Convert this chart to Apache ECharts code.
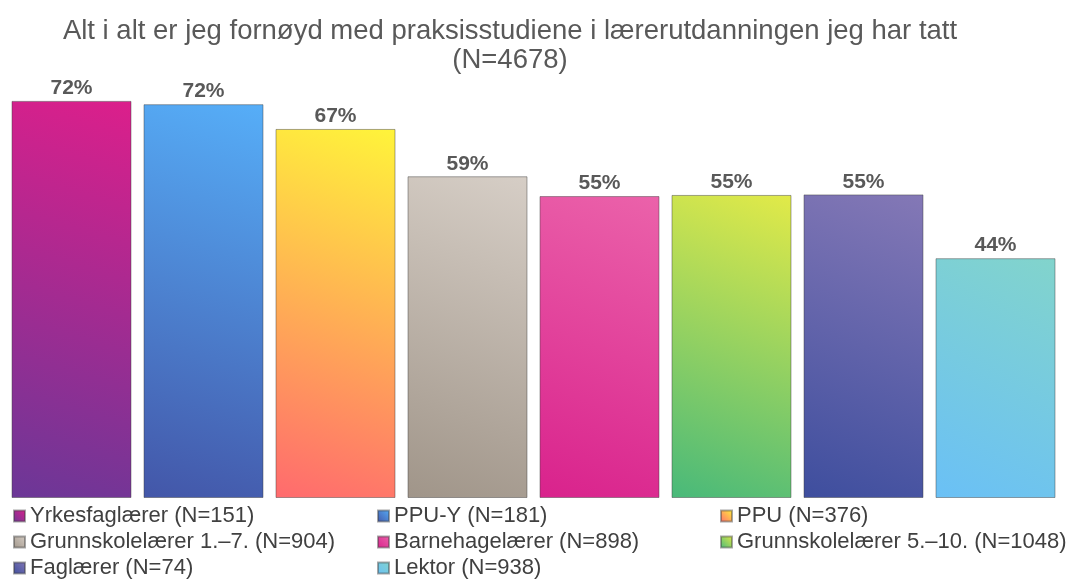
<!DOCTYPE html>
<html>
<head>
<meta charset="utf-8">
<script src="https://cdn.jsdelivr.net/npm/echarts@6/dist/echarts.min.js"></script>
<style>
  html, body { margin: 0; padding: 0; background: #fff; }
  #chart { width: 1077px; height: 583px; }
</style>
</head>
<body>
<div id="chart"></div>
<script>
// data
var groups = ['Yrkesfaglærer', 'PPU-Y', 'PPU', 'Grunnskolelærer 1.–7.', 'Barnehagelærer',
              'Grunnskolelærer 5.–10.', 'Faglærer', 'Lektor'];
var counts = [151, 181, 376, 904, 898, 1048, 74, 938];
var shares = [72.2, 71.6, 67.1, 58.5, 54.9, 55.1, 55.2, 43.6];

// gradient ends: [top-right, bottom-left]
var colors = [
    ['#dc1f8b', '#6b3797'],
    ['#56aef8', '#4356a8'],
    ['#fff43a', '#ff6a6e'],
    ['#d6cec6', '#a09589'],
    ['#eb62aa', '#d9228c'],
    ['#e2ea48', '#48b97a'],
    ['#8478b6', '#3e4e9e'],
    ['#82d4cc', '#6ac0f6']
];

var myChart = echarts.init(document.getElementById('chart'));

var names = groups.map(function (g, i) { return g + ' (N=' + counts[i] + ')'; });

var series = groups.map(function (g, i) {
    return {
        name: names[i],
        type: 'bar',
        barWidth: 120,
        barGap: '10%',
        data: [shares[i]],
        itemStyle: {
            color: new echarts.graphic.LinearGradient(1, 0, 0, 1, [
                { offset: 0, color: colors[i][0] },
                { offset: 1, color: colors[i][1] }
            ]),
            borderColor: 'rgba(60,60,60,0.45)',
            borderWidth: 1
        },
        label: {
            show: true,
            position: 'top',
            distance: 2,
            color: '#595959',
            fontFamily: 'Liberation Sans, Arial, sans-serif',
            fontWeight: 'bold',
            fontSize: 21,
            formatter: function (p) { return Math.round(p.value) + '%'; }
        }
    };
});

var legendBase = {
    orient: 'vertical',
    top: 505,
    itemWidth: 11,
    itemHeight: 11,
    itemGap: 4,
    icon: 'rect',
    textStyle: {
        color: '#404040',
        fontFamily: 'Liberation Sans, Arial, sans-serif',
        fontSize: 22,
        lineHeight: 22
    },
    padding: 0
};

var option = {
    animation: false,
    title: {
        text: 'Alt i alt er jeg fornøyd med praksisstudiene i lærerutdanningen jeg har tatt\n(N=4678)',
        left: 505,
        textAlign: 'center',
        top: 12,
        textStyle: {
            color: '#595959',
            fontFamily: 'Liberation Sans, Arial, sans-serif',
            fontWeight: 'normal',
            fontSize: 27.5,
            lineHeight: 29
        }
    },
    legend: [
        Object.assign({}, legendBase, { left: 13, data: [names[0], names[3], names[6]] }),
        Object.assign({}, legendBase, { left: 377, data: [names[1], names[4], names[7]] }),
        Object.assign({}, legendBase, { left: 720, data: [names[2], names[5]] })
    ],
    grid: {
        left: 0,
        right: 10,
        top: 58,
        bottom: 85
    },
    xAxis: {
        type: 'category',
        data: [''],
        axisLine: { show: false },
        axisTick: { show: false },
        axisLabel: { show: false }
    },
    yAxis: {
        type: 'value',
        min: 0,
        max: 80,
        show: false,
        splitLine: { show: false }
    },
    series: series
};

myChart.setOption(option);
</script>
</body>
</html>
